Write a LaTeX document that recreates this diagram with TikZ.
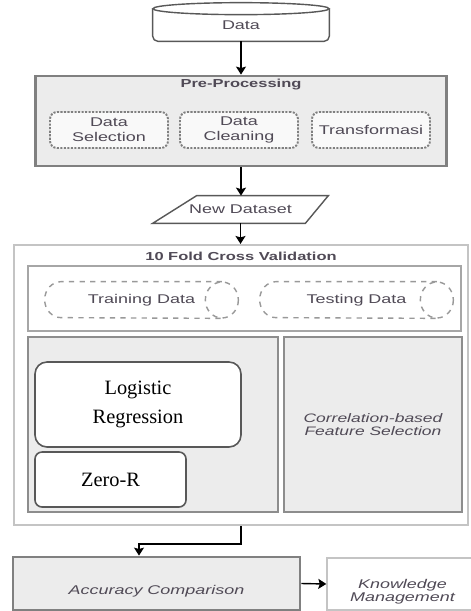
\documentclass[tikz,border=0pt]{standalone}
\usepackage{fontspec}
\setmainfont{Liberation Serif}
\setsansfont{Liberation Sans}[FakeStretch=1.42]
\usepackage{tikz}
\usetikzlibrary{shapes.geometric, arrows.meta, positioning, backgrounds, calc}
\definecolor{panelgray}{RGB}{236,236,236}
\definecolor{framegray}{RGB}{128,128,128}
\definecolor{softgray}{RGB}{196,196,196}
\definecolor{inkgray}{RGB}{80,74,86}
\definecolor{outlinegray}{RGB}{88,88,88}
\tikzset{
    txt/.style={font=\sffamily\fontsize{7.2}{8.5}\selectfont, text=inkgray, align=center},
    heading/.style={font=\sffamily\bfseries\fontsize{6.6}{8}\selectfont, text=inkgray},
    ital/.style={font=\sffamily\itshape\fontsize{7.2}{7.6}\selectfont, text=inkgray, align=center},
    frame/.style={rectangle, draw=framegray, fill=panelgray, line width=1.6pt, inner sep=0pt},
    stagebox/.style={rectangle, rounded corners=4pt, draw=framegray, fill=white!95!gray,
                     line width=1.1pt, dash pattern=on 1.2pt off 0.8pt,
                     minimum width=23.6mm, minimum height=7.2mm, inner sep=0pt, txt},
    splitbox/.style={rectangle, minimum width=38.6mm, minimum height=7.2mm, inner sep=0pt, txt},
    dashline/.style={draw=framegray!80, dash pattern=on 3pt off 3pt, line width=0.8pt},
    panel/.style={rectangle, draw=framegray!90, fill=panelgray, line width=0.9pt, inner sep=0pt},
    model/.style={rectangle, draw=outlinegray, fill=white, line width=0.9pt, inner sep=0pt,
                  align=center, font=\fontsize{11.6}{16.4}\selectfont},
    outline/.style={draw=outlinegray, line width=0.8pt, fill=white},
    arrow/.style={line width=0.8pt, -{Stealth[length=1.6mm, width=2mm, inset=0.3mm]}, black}
}

\begin{document}
\begin{tikzpicture}[x=0.2mm, y=-0.2mm]
    \useasboundingbox (0,0) rectangle (471,611);

    % Data
    \node[txt, minimum width=35.2mm, minimum height=6.4mm, inner sep=0pt] (data) at (241,25) {Data};
    \begin{scope}[on background layer]
        \draw[outline, rounded corners=3pt] (data.north west) -- (data.south west)
            -- (data.south east) -- (data.north east);
        \draw[outline] (data.north) ellipse [x radius=88, y radius=6];
    \end{scope}

    % Pre-Processing
    \node[frame, minimum width=82.2mm, minimum height=18mm] (preproc) at (241,121) {};
    \node[heading] (pptitle) at (241,85) {Pre-Processing};
    \node[stagebox] (select) at (109,130) {Data\\Selection};
    \node[stagebox] (clean) at (239,130) {Data\\Cleaning};
    \node[stagebox] (transf) at (371,130) {Transformasi};

    % New Dataset
    \node[txt, minimum width=35mm, minimum height=5.4mm, inner sep=0pt] (newds) at (240.5,209.5) {New Dataset};
    \begin{scope}[on background layer]
        \draw[outline] (newds.south west) -- ($(newds.north west)+(44,0)$)
            -- (newds.north east) -- ($(newds.south east)+(-23,0)$) -- cycle;
    \end{scope}

    % 10 Fold Cross Validation
    \node[rectangle, draw=softgray, fill=white, line width=1.2pt, minimum width=90.8mm,
          minimum height=56mm, inner sep=0pt] (cv) at (241,385) {};
    \node[heading] (cvtitle) at (241,256) {10 Fold Cross Validation};
    \node[rectangle, draw=framegray!70, line width=0.8pt, minimum width=86.6mm,
          minimum height=13mm, inner sep=0pt] (sets) at (244.5,298.5) {};
    \node[splitbox] (train) at (141.5,300) {Training Data};
    \node[splitbox] (test) at (356.5,300) {Testing Data};
    \foreach \part in {train, test} {
        \draw[dashline] ($(\part.north east)+(-16.5,0)$) -- ($(\part.north west)+(16.5,0)$)
            arc[start angle=270, end angle=90, x radius=16.5, y radius=18]
            -- ($(\part.south east)+(-16.5,0)$);
        \draw[dashline] ($(\part.east)+(-16.5,0)$) ellipse [x radius=16.5, y radius=18];
    }

    % Models and feature selection
    \node[panel, minimum width=50mm, minimum height=35mm] (models) at (153,424.5) {};
    \node[panel, ital, font=\sffamily\itshape\fontsize{7}{7}\selectfont, minimum width=35.6mm,
          minimum height=35mm] (cfs) at (373,424.5) {Correlation-based\\Feature Selection};
    \node[model, rounded corners=2.4mm, minimum width=41.2mm, minimum height=17mm] (logreg)
        at (138,404.5) {Logistic\\Regression};
    \node[model, rounded corners=1.4mm, minimum width=30.2mm, minimum height=11mm] (zeror)
        at (110.5,479.5) {Zero-R};

    % Accuracy Comparison
    \node[frame, minimum width=57.4mm, minimum height=10.6mm,
          label={[ital, yshift=-1.6mm]center:Accuracy Comparison}] (acc) at (156.5,583.5) {};
    \node[rectangle, draw=softgray, fill=white, line width=0.8pt, minimum width=30.2mm,
          minimum height=10.4mm, inner sep=0pt,
          label={[ital, yshift=-1.6mm]center:{Knowledge\\Management}}] (km) at (402.5,584) {};

    % Arrows
    \coordinate (bend) at (139,544);
    \draw[arrow] (data.south) -- (preproc.north);
    \draw[arrow] (preproc.south) -- (preproc.south |- newds.north);
    \draw[arrow] (newds.south) -- (newds.south |- cv.north);
    \draw[arrow] (cv.south) |- (bend) -- (bend |- acc.north);
    \draw[arrow] (acc.east) -- (km.west);
\end{tikzpicture}
\end{document}
